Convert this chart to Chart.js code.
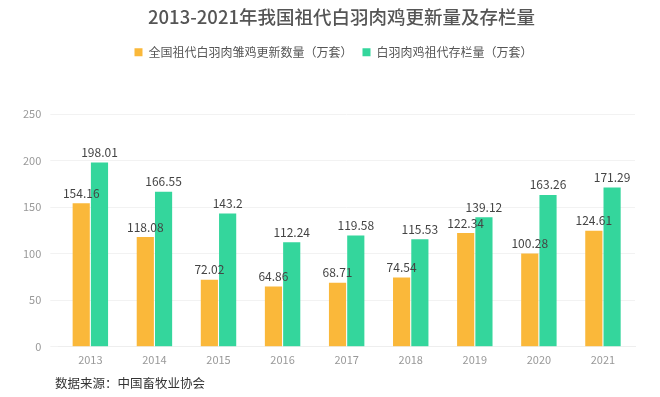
<!DOCTYPE html>
<html>
<head>
<meta charset="utf-8">
<script src="https://cdn.jsdelivr.net/npm/chart.js@4/dist/chart.umd.min.js"></script>
<style>
  html, body { margin: 0; padding: 0; background: #fff; }
  #wrap { position: relative; width: 660px; height: 397px; }
  #source {
    position: absolute; left: 55px; top: 373px;
    font: 12.5px "Noto Sans CJK SC", sans-serif; color: #333;
  }
</style>
</head>
<body>
<div id="wrap">
  <canvas id="chart" width="660" height="397"></canvas>
  <div id="source">数据来源：中国畜牧业协会</div>
</div>
<script>
const years = ['2013', '2014', '2015', '2016', '2017', '2018', '2019', '2020', '2021'];
const renewal = [154.16, 118.08, 72.02, 64.86, 68.71, 74.54, 122.34, 100.28, 124.61];
const stock = [198.01, 166.55, 143.2, 112.24, 119.58, 115.53, 139.12, 163.26, 171.29];
const yTicks = [0, 50, 100, 150, 200, 250];

const colorOrange = '#FAB83A';
const colorGreen = '#34D69C';
const fontCJK = '"Noto Sans CJK SC", "Noto Sans", sans-serif';

// value labels above the bars
const barLabels = {
    id: 'barLabels',
    afterDatasetsDraw(chart) {
        const ctx = chart.ctx;
        ctx.save();
        ctx.font = '12px ' + fontCJK;
        ctx.fillStyle = '#444';
        ctx.textAlign = 'center';
        ctx.textBaseline = 'bottom';
        chart.data.datasets.forEach((ds, i) => {
            chart.getDatasetMeta(i).data.forEach((bar, j) => {
                ctx.fillText(String(ds.data[j]), bar.x, bar.y - 4);
            });
        });
        ctx.restore();
    }
};

// extra space under the legend, and nudge title/legend a bit right like the original
const headerTweak = {
    id: 'headerTweak',
    beforeInit(chart) {
        const fit = chart.legend.fit;
        chart.legend.fit = function () {
            fit.bind(chart.legend)();
            this.height += 46;
        };
    },
    afterLayout(chart) {
        chart.titleBlock.left += 17;
        chart.titleBlock.right += 17;
        chart.legend.left += 9;
        chart.legend.right += 9;
    }
};

new Chart(document.getElementById('chart'), {
    type: 'bar',
    data: {
        labels: years,
        datasets: [
            {
                label: '全国祖代白羽肉雏鸡更新数量（万套）',
                data: renewal,
                backgroundColor: colorOrange,
                categoryPercentage: 0.57,
                barPercentage: 0.94
            },
            {
                label: '白羽肉鸡祖代存栏量（万套）',
                data: stock,
                backgroundColor: colorGreen,
                categoryPercentage: 0.57,
                barPercentage: 0.94
            }
        ]
    },
    options: {
        responsive: false,
        animation: false,
        layout: { padding: { left: 14, right: 25, top: 4, bottom: 33 } },
        plugins: {
            title: {
                display: true,
                text: '2013-2021年我国祖代白羽肉鸡更新量及存栏量',
                color: '#555',
                font: { family: fontCJK, size: 18.5, weight: '500' },
                padding: { top: 2, bottom: 8 }
            },
            legend: {
                labels: {
                    boxWidth: 8,
                    boxHeight: 8,
                    color: '#555',
                    font: { family: fontCJK, size: 12 },
                    padding: 10
                }
            },
            tooltip: { enabled: false }
        },
        scales: {
            x: {
                grid: { display: false },
                border: { color: '#eee' },
                ticks: { color: '#999', font: { family: fontCJK, size: 11 }, padding: -2 }
            },
            y: {
                min: 0,
                max: 250,
                afterBuildTicks: axis => { axis.ticks = yTicks.map(v => ({ value: v })); },
                grid: { color: '#f2f2f2' },
                border: { display: false },
                ticks: { color: '#999', font: { family: fontCJK, size: 11 }, padding: 9 }
            }
        }
    },
    plugins: [barLabels, headerTweak]
});
</script>
</body>
</html>
